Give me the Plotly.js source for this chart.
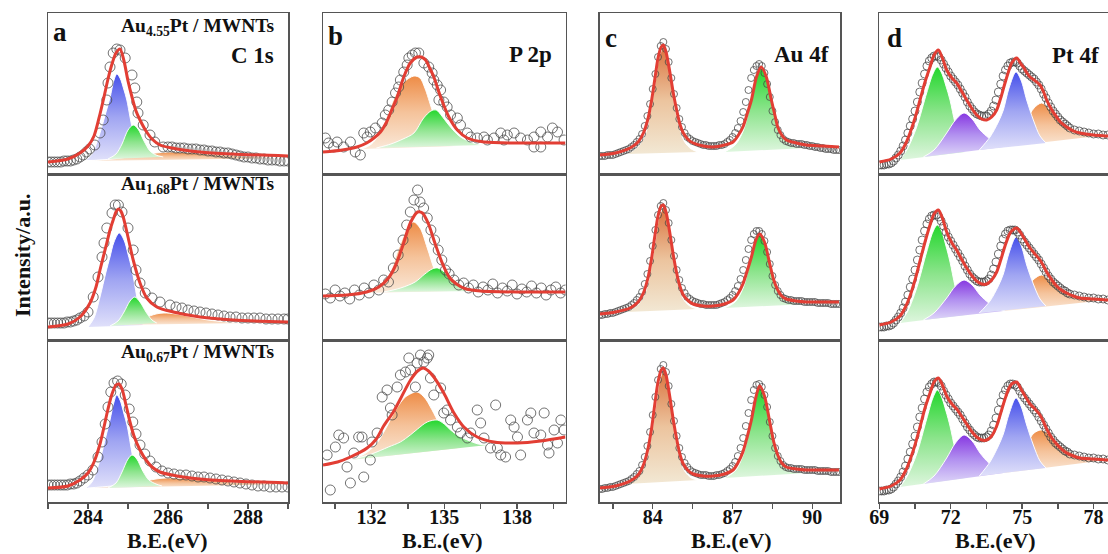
<!DOCTYPE html>
<html><head><meta charset="utf-8">
<script src="https://cdn.plot.ly/plotly-3.0.1.min.js"></script>
<style>html,body{margin:0;padding:0;overflow:hidden;background:#fff}#chart{width:1130px;height:554px}</style>
</head><body><div id="chart"></div>
<script>
// ---------------- DATA (binding energy eV, intensity a.u.) ----------------
// Panel a : C 1s
const A1_PTS=[[283.0,12],[283.08,12],[283.16,12],[283.24,12],[283.32,12],[283.4,13],[283.48,13],[283.56,13],[283.64,14],[283.72,15],[283.8,17],[283.88,19],[283.96,22],[284.04,25],[284.17,29],[284.3,41],[284.38,54],[284.47,74],[284.5,91],[284.55,107],[284.63,121],[284.72,125],[284.8,124],[284.93,116],[285.1,99],[285.17,86],[285.22,72],[285.25,61],[285.38,49],[285.55,39],[285.67,32],[285.88,27],[286.0,27],[286.1,27],[286.2,26],[286.3,26],[286.4,26],[286.5,25],[286.6,25],[286.7,25],[286.8,24],[286.9,24],[287.0,23],[287.1,23],[287.2,22],[287.3,22],[287.4,21],[287.5,21],[287.6,20],[287.7,19],[287.8,18],[287.9,17],[288.0,17],[288.1,16],[288.2,16],[288.3,15],[288.4,15],[288.5,14],[288.6,14],[288.7,14],[288.8,13],[288.9,13],[289.0,13]];
const A1_FIT=[[283.0,12],[283.5,15],[283.8,21],[284.0,28],[284.15,38],[284.3,60],[284.4,77],[284.5,95],[284.6,110],[284.7,121],[284.8,125],[284.9,113],[285.0,93],[285.1,77],[285.2,63],[285.3,54],[285.45,43],[285.6,35],[285.8,29],[286.1,26],[286.8,22],[287.6,20],[289.0,18]];
const A1_C1=[[283.95,14],[284.1,20],[284.3,41],[284.45,62],[284.55,76],[284.65,94],[284.72,100],[284.8,96],[284.9,84],[284.97,74],[285.05,57],[285.13,41],[285.25,20],[285.35,15]];
const A1_C2=[[284.5,15],[284.7,20],[284.85,30],[285.0,44],[285.13,49],[285.25,45],[285.4,33],[285.55,23],[285.7,19],[285.88,17]];
const A1_C3=[[284.0,13],[284.6,15],[285.2,18],[285.7,21],[286.05,22],[286.5,21.5],[287.0,20],[287.6,18.5],[288.3,17],[289.0,16]];

const A2_PTS=[[283.0,17],[283.08,17],[283.16,17],[283.24,17],[283.32,17],[283.4,17],[283.48,18],[283.56,18],[283.64,19],[283.72,20],[283.8,22],[283.9,24],[284.0,28],[284.13,43],[284.25,63],[284.35,83],[284.4,97],[284.47,112],[284.6,127],[284.68,135],[284.76,135],[284.85,128],[285.0,112],[285.13,90],[285.2,70],[285.3,57],[285.43,47],[285.6,42],[285.8,38],[286.05,35],[286.2,33],[286.35,32],[286.5,30],[286.65,29],[286.8,28],[286.95,27],[287.1,26],[287.25,25],[287.4,24],[287.55,23],[287.7,23],[287.85,22],[288.0,22],[288.15,22],[288.3,22],[288.45,21],[288.6,21],[288.75,21],[288.9,21],[289.0,21]];
const A2_FIT=[[283.0,13],[283.5,16],[283.8,23],[284.05,37],[284.2,53],[284.3,70],[284.4,86],[284.47,97],[284.55,110],[284.63,120],[284.7,128],[284.76,131],[284.82,129],[284.88,123],[285.0,103],[285.13,80],[285.3,57],[285.47,42],[285.72,33],[286.13,28],[286.8,23],[287.63,20],[289.0,18]];
const A2_C1=[[284.0,13],[284.15,22],[284.3,43],[284.45,68],[284.55,83],[284.65,98],[284.78,107],[284.9,100],[285.0,86],[285.1,70],[285.22,43],[285.3,25],[285.38,15]];
const A2_C2=[[284.55,14],[284.75,19],[284.9,28],[285.05,39],[285.17,43],[285.3,38],[285.45,28],[285.6,20],[285.72,17]];
const A2_C3=[[284.6,15],[285.0,17],[285.4,22],[285.7,26],[285.9,27],[286.2,26],[286.6,23],[287.0,20],[287.5,18],[288.0,17]];

const A3_PTS=[[283.0,17],[283.08,17],[283.16,17],[283.24,17],[283.32,17],[283.4,17],[283.48,17],[283.56,18],[283.64,18],[283.72,19],[283.8,21],[283.9,24],[284.0,27],[284.12,32],[284.25,45],[284.35,60],[284.43,78],[284.5,95],[284.57,110],[284.65,119],[284.74,121],[284.83,118],[284.93,107],[285.03,93],[285.12,80],[285.2,68],[285.3,57],[285.42,48],[285.55,41],[285.7,35],[285.85,31],[286.0,29],[286.15,28],[286.3,27],[286.45,27],[286.6,26],[286.75,25],[286.9,25],[287.05,24],[287.2,23],[287.35,22],[287.5,21],[287.65,20],[287.8,19],[287.95,18],[288.1,17],[288.25,16],[288.4,16],[288.55,15],[288.7,15],[288.85,15],[289.0,15]];
const A3_FIT=[[283.0,14],[283.5,16],[283.8,22],[284.0,29],[284.15,40],[284.3,58],[284.4,75],[284.5,93],[284.6,108],[284.7,117],[284.77,118],[284.85,113],[284.95,97],[285.05,80],[285.15,66],[285.3,52],[285.45,42],[285.6,35],[285.8,30],[286.1,27],[286.8,23],[287.6,21],[289.0,19]];
const A3_C1=[[283.95,14],[284.1,20],[284.3,42],[284.45,66],[284.55,82],[284.65,100],[284.72,107],[284.8,102],[284.9,88],[284.98,76],[285.06,58],[285.14,40],[285.25,20],[285.35,15]];
const A3_C2=[[284.5,14],[284.7,19],[284.85,30],[285.0,43],[285.1,47],[285.22,43],[285.37,31],[285.52,22],[285.7,18],[285.85,16]];
const A3_C3=[[284.0,14],[284.6,16],[285.2,19],[285.7,23],[285.95,24],[286.4,23.5],[287.0,22],[287.6,20],[288.3,19],[289.0,18]];

// Panel b : P 2p
const B1_PTS=[[130.1,36],[130.23,31],[130.44,27],[130.58,32],[130.85,27],[131.13,32],[131.33,22],[131.54,19],[131.68,41],[131.82,37],[131.95,42],[132.16,46],[132.44,51],[132.57,59],[132.71,64],[132.85,72],[132.99,81],[133.12,87],[133.19,94],[133.33,102],[133.47,109],[133.54,116],[133.68,119],[133.81,121],[133.95,121],[134.16,111],[134.36,107],[134.5,101],[134.57,94],[134.71,89],[134.85,84],[134.78,74],[134.98,72],[135.12,67],[135.26,59],[135.54,56],[135.67,49],[135.95,41],[136.09,37],[136.36,36],[136.64,37],[136.78,34],[137.05,36],[137.33,41],[137.46,34],[137.6,39],[137.88,41],[138.15,36],[138.43,34],[138.7,27],[138.7,37],[138.98,42],[138.98,27],[139.26,37],[139.46,46],[139.67,42],[139.94,34]];
const B1_FIT=[[130.0,22],[130.8,24],[131.4,27],[131.8,31],[132.1,36],[132.37,42],[132.6,51],[132.78,61],[133.06,77],[133.33,97],[133.6,111],[133.88,117],[134.05,117],[134.23,114],[134.4,106],[134.57,97],[134.85,77],[135.19,57],[135.54,44],[135.95,36],[136.64,32],[138.0,31],[140.0,31]];
const B1_C1=[[131.6,25],[132.0,30],[132.5,47],[132.9,74],[133.3,91],[133.75,98],[134.0,96],[134.2,86],[134.5,64],[134.85,41],[135.25,29],[135.5,28]];
const B1_C2=[[132.2,26],[132.8,30],[133.3,35],[133.75,41],[134.15,56],[134.45,63],[134.67,64],[134.9,58],[135.12,51],[135.4,43],[135.67,37],[136.2,31],[136.6,29]];

const B2_PTS=[[130.1,46],[130.3,42],[130.5,50],[130.7,44],[130.9,47],[131.1,41],[131.3,50],[131.5,45],[131.7,52],[131.9,47],[132.1,55],[132.3,50],[132.5,60],[132.7,58],[132.9,72],[133.1,85],[133.3,100],[133.45,115],[133.6,128],[133.75,140],[133.9,150],[134.0,138],[134.15,132],[134.3,122],[134.45,110],[134.6,100],[134.75,90],[134.9,80],[135.05,70],[135.2,66],[135.4,60],[135.6,55],[135.8,57],[136.0,52],[136.2,55],[136.4,48],[136.6,53],[136.8,50],[137.0,56],[137.2,47],[137.4,52],[137.6,49],[137.8,55],[138.0,46],[138.2,51],[138.4,48],[138.6,54],[138.8,47],[139.0,52],[139.2,45],[139.4,50],[139.6,53],[139.8,47],[140.0,50]];
const B2_FIT=[[130.0,44],[131.0,45],[131.8,48],[132.3,53],[132.7,62],[133.0,75],[133.3,95],[133.6,117],[133.9,128],[134.1,127],[134.35,116],[134.6,98],[134.9,78],[135.2,63],[135.5,56],[135.9,51],[136.5,49],[138.0,48],[140.0,48]];
const B2_C1=[[131.6,47],[132.2,52],[132.7,64],[133.1,90],[133.45,110],[133.73,118],[134.0,112],[134.3,92],[134.6,70],[134.9,55],[135.3,49]];
const B2_C2=[[132.5,48],[133.2,52],[133.8,58],[134.2,66],[134.5,71],[134.73,72],[135.0,68],[135.3,61],[135.7,54],[136.2,50],[136.7,49]];

const B3_PTS=[[130.17,47],[130.3,12],[130.51,55],[130.65,67],[130.85,64],[130.99,35],[131.13,19],[131.27,49],[131.47,65],[131.61,65],[131.68,25],[131.95,42],[132.02,60],[132.23,69],[132.44,105],[132.64,112],[132.78,94],[132.85,87],[133.06,115],[133.19,127],[133.4,130],[133.54,144],[133.61,132],[133.81,115],[133.88,139],[134.02,147],[134.16,140],[134.3,144],[134.36,147],[134.43,124],[134.57,107],[134.85,114],[134.98,89],[135.12,92],[135.26,82],[135.54,75],[135.67,69],[135.95,64],[136.09,69],[136.36,92],[136.5,79],[136.64,64],[136.91,54],[137.12,97],[137.19,54],[137.33,47],[137.53,45],[137.74,82],[137.88,75],[138.02,65],[138.15,47],[138.43,82],[138.57,89],[138.7,69],[138.98,67],[139.12,89],[139.26,57],[139.32,49],[139.53,72],[139.67,59],[139.81,82],[139.94,72]];
const B3_FIT=[[130.0,37],[130.6,40],[131.13,45],[131.82,54],[132.2,63],[132.5,76],[132.9,90],[133.19,103],[133.61,122],[133.9,131],[134.13,134],[134.35,131],[134.57,125],[134.98,109],[135.4,89],[135.81,75],[136.36,65],[137.05,60],[138.02,59],[138.98,61],[140.0,65]];
const B3_C1=[[131.1,42],[131.7,48],[132.2,58],[132.6,74],[133.0,92],[133.4,105],[133.88,110],[134.2,104],[134.43,95],[134.71,82],[135.0,68],[135.35,56],[135.6,54]];
const B3_C2=[[131.1,42],[132.0,48],[132.7,55],[133.19,60],[133.6,67],[133.9,73],[134.3,80],[134.71,82],[135.0,78],[135.26,72],[135.6,66],[135.95,62],[136.4,58],[136.8,57]];

// Panel c : Au 4f
const C1_PTS=[[82.0,18],[82.1,18],[82.2,18],[82.3,19],[82.4,19],[82.5,19],[82.6,20],[82.7,21],[82.8,22],[82.9,23],[83.0,24],[83.1,25],[83.2,27],[83.3,29],[83.4,32],[83.5,35],[83.6,40],[83.7,48],[83.8,58],[83.9,70],[84.0,85],[84.1,100],[84.2,117],[84.3,128],[84.4,132],[84.5,125],[84.6,112],[84.7,96],[84.8,80],[84.9,66],[85.0,55],[85.1,47],[85.2,41],[85.3,37],[85.4,35],[85.5,33],[85.6,32],[85.7,31],[85.8,30],[85.9,29],[86.0,29],[86.1,28],[86.2,28],[86.3,28],[86.4,28],[86.5,29],[86.6,29],[86.7,30],[86.8,32],[86.9,34],[87.0,37],[87.1,41],[87.2,46],[87.3,53],[87.4,62],[87.5,72],[87.6,84],[87.7,96],[87.8,104],[87.9,108],[88.0,110],[88.1,108],[88.2,101],[88.3,90],[88.4,77],[88.5,63],[88.6,52],[88.7,44],[88.8,39],[88.9,35],[89.0,33],[89.1,32],[89.2,31],[89.3,31],[89.4,30],[89.5,30],[89.6,30],[89.7,29],[89.8,29],[89.9,28],[90.0,28],[90.1,27],[90.2,27],[90.3,26],[90.4,26],[90.5,25],[90.6,25],[90.7,25],[90.8,24],[90.9,24],[91.0,24]];
const C1_FIT=[[82.0,19],[82.6,21],[83.15,26],[83.45,32],[83.65,41],[83.82,55],[83.96,74],[84.08,95],[84.2,116],[84.32,127],[84.4,129],[84.5,122],[84.65,101],[84.78,80],[84.9,64],[85.02,50],[85.15,41],[85.35,34],[85.52,31],[85.9,28],[86.27,27],[86.7,29],[87.02,32],[87.2,38],[87.39,47],[87.55,60],[87.71,74],[87.9,97],[88.08,107],[88.27,97],[88.46,74],[88.6,58],[88.7,47],[88.85,39],[89.02,34],[89.4,31],[89.77,29],[90.4,28],[91.0,27]];
const C1_C1=[[83.0,20],[83.4,26],[83.7,38],[83.9,60],[84.09,91],[84.25,118],[84.43,127],[84.6,112],[84.71,91],[84.85,65],[85.02,45],[85.2,32],[85.45,25],[85.7,22]];
const C1_C2=[[86.7,22],[87.1,29],[87.4,43],[87.64,67],[87.83,91],[88.08,106],[88.33,91],[88.58,64],[88.8,43],[89.1,31],[89.45,27],[89.8,26]];

const C2_PTS=[[82.0,25],[82.1,25],[82.2,26],[82.3,26],[82.4,27],[82.5,27],[82.6,28],[82.7,29],[82.8,30],[82.9,31],[83.0,32],[83.1,33],[83.2,35],[83.3,37],[83.4,40],[83.5,43],[83.6,48],[83.7,56],[83.8,66],[83.9,79],[84.0,94],[84.1,110],[84.2,125],[84.3,134],[84.4,137],[84.5,130],[84.6,117],[84.7,100],[84.8,84],[84.9,70],[85.0,60],[85.1,52],[85.2,47],[85.3,43],[85.4,41],[85.5,39],[85.6,38],[85.7,37],[85.8,36],[85.9,36],[86.0,35],[86.1,35],[86.2,35],[86.3,35],[86.4,35],[86.5,36],[86.6,37],[86.7,38],[86.8,40],[86.9,42],[87.0,45],[87.1,49],[87.2,54],[87.3,61],[87.4,70],[87.5,80],[87.6,91],[87.7,100],[87.8,106],[87.9,109],[88.0,109],[88.1,106],[88.2,99],[88.3,88],[88.4,76],[88.5,64],[88.6,55],[88.7,49],[88.8,45],[88.9,42],[89.0,41],[89.1,40],[89.2,40],[89.3,39],[89.4,39],[89.5,39],[89.6,39],[89.7,38],[89.8,38],[89.9,38],[90.0,38],[90.1,38],[90.2,37],[90.3,37],[90.4,37],[90.5,37],[90.6,37],[90.7,36],[90.8,36],[90.9,36],[91.0,36]];
const C2_FIT=[[82.0,26],[82.6,28],[83.15,32],[83.45,38],[83.65,47],[83.82,62],[83.96,82],[84.08,104],[84.2,124],[84.32,134],[84.4,135],[84.5,128],[84.65,106],[84.78,84],[84.9,67],[85.02,54],[85.15,45],[85.35,39],[85.52,36],[85.9,34],[86.27,34],[86.7,36],[87.02,40],[87.2,46],[87.39,56],[87.55,69],[87.71,83],[87.88,100],[88.02,106],[88.2,98],[88.4,76],[88.55,60],[88.7,50],[88.85,44],[89.02,41],[89.4,39],[89.77,38],[90.4,38],[91.0,38]];
const C2_C1=[[83.0,28],[83.4,34],[83.7,46],[83.9,67],[84.09,98],[84.25,124],[84.42,132],[84.6,117],[84.71,96],[84.85,70],[85.02,50],[85.2,39],[85.45,33],[85.7,31]];
const C2_C2=[[86.7,32],[87.1,38],[87.4,52],[87.62,74],[87.82,96],[88.02,105],[88.25,94],[88.5,68],[88.72,48],[89.05,39],[89.4,37],[89.8,36]];

const C3_PTS=[[82.0,13],[82.1,13],[82.2,14],[82.3,14],[82.4,15],[82.5,15],[82.6,16],[82.7,17],[82.8,18],[82.9,19],[83.0,20],[83.1,21],[83.2,23],[83.3,25],[83.4,28],[83.5,31],[83.6,37],[83.7,45],[83.8,56],[83.9,70],[84.0,87],[84.1,105],[84.2,122],[84.3,133],[84.4,137],[84.5,130],[84.6,116],[84.7,98],[84.8,81],[84.9,66],[85.0,54],[85.1,45],[85.2,39],[85.3,35],[85.4,32],[85.5,30],[85.6,29],[85.7,28],[85.8,27],[85.9,27],[86.0,27],[86.1,26],[86.2,26],[86.3,26],[86.4,27],[86.5,27],[86.6,28],[86.7,29],[86.8,31],[86.9,33],[87.0,36],[87.1,40],[87.2,46],[87.3,54],[87.4,64],[87.5,76],[87.6,89],[87.7,102],[87.8,112],[87.9,117],[88.0,118],[88.1,115],[88.2,107],[88.3,95],[88.4,80],[88.5,66],[88.6,54],[88.7,46],[88.8,41],[88.9,37],[89.0,35],[89.1,34],[89.2,34],[89.3,33],[89.4,33],[89.5,33],[89.6,33],[89.7,32],[89.8,32],[89.9,32],[90.0,32],[90.1,32],[90.2,31],[90.3,31],[90.4,31],[90.5,31],[90.6,31],[90.7,30],[90.8,30],[90.9,30],[91.0,30]];
const C3_FIT=[[82.0,14],[82.6,16],[83.15,21],[83.45,27],[83.65,37],[83.82,53],[83.96,74],[84.08,98],[84.2,120],[84.32,132],[84.4,134],[84.5,127],[84.65,104],[84.78,81],[84.9,63],[85.02,48],[85.15,38],[85.35,31],[85.52,28],[85.9,26],[86.27,26],[86.7,28],[87.02,32],[87.2,39],[87.39,50],[87.55,65],[87.71,82],[87.88,105],[88.02,116],[88.2,106],[88.4,80],[88.55,60],[88.7,47],[88.85,39],[89.02,35],[89.4,33],[89.77,32],[90.4,32],[91.0,32]];
const C3_C1=[[83.0,18],[83.4,24],[83.7,37],[83.9,59],[84.09,92],[84.25,120],[84.42,132],[84.6,116],[84.71,93],[84.85,66],[85.02,44],[85.2,31],[85.45,24],[85.7,22]];
const C3_C2=[[86.7,24],[87.1,31],[87.4,47],[87.62,72],[87.82,100],[88.02,115],[88.25,100],[88.5,70],[88.72,46],[89.05,33],[89.4,30],[89.8,29]];

// Panel d : Pt 4f
const D1_PTS=[[69.0,9],[69.1,9],[69.2,9],[69.3,10],[69.4,10],[69.5,11],[69.6,13],[69.7,16],[69.8,19],[69.9,23],[70.0,28],[70.1,34],[70.2,41],[70.3,48],[70.4,55],[70.5,63],[70.6,72],[70.7,82],[70.8,91],[70.9,100],[71.0,108],[71.1,113],[71.2,116],[71.3,118],[71.4,118],[71.5,117],[71.6,114],[71.7,110],[71.8,106],[71.9,102],[72.0,98],[72.1,95],[72.2,92],[72.3,89],[72.4,85],[72.5,81],[72.6,77],[72.7,72],[72.8,68],[72.9,65],[73.0,62],[73.1,60],[73.2,59],[73.3,58],[73.4,58],[73.5,58],[73.6,60],[73.7,63],[73.8,68],[73.9,74],[74.0,82],[74.1,90],[74.2,98],[74.3,104],[74.4,108],[74.5,111],[74.6,112],[74.7,112],[74.8,111],[74.9,108],[75.0,105],[75.1,103],[75.2,101],[75.3,99],[75.4,97],[75.5,95],[75.6,92],[75.7,89],[75.8,85],[75.9,80],[76.0,76],[76.1,71],[76.2,67],[76.3,63],[76.4,60],[76.5,57],[76.6,54],[76.7,52],[76.8,50],[76.9,48],[77.0,46],[77.2,44],[77.4,43],[77.6,42],[77.8,41],[78.0,40],[78.2,40],[78.4,39],[78.6,39],[78.8,38],[79.0,38]];
const D1_FIT=[[69.0,12],[69.5,15],[69.87,21],[70.1,30],[70.29,41],[70.5,56],[70.71,74],[70.92,92],[71.13,107],[71.3,119],[71.48,124],[71.65,116],[71.83,104],[72.05,96],[72.25,91],[72.45,83],[72.67,74],[72.9,65],[73.09,59],[73.3,55],[73.51,54],[73.72,57],[73.93,64],[74.1,76],[74.28,91],[74.45,104],[74.56,111],[74.77,116],[74.95,110],[75.05,107],[75.2,101],[75.33,97],[75.5,94],[75.75,89],[75.9,82],[76.03,74],[76.25,64],[76.45,57],[76.65,51],[76.87,47],[77.15,43],[77.43,41],[78.0,39],[78.6,38],[79.1,37]];
const D1_C1=[[69.87,14],[70.2,26],[70.57,47],[70.99,81],[71.25,100],[71.44,107],[71.6,102],[71.8,88],[71.97,74],[72.18,51],[72.4,33],[72.6,22]];
const D1_C2=[[70.85,17],[71.3,24],[71.83,41],[72.2,54],[72.56,61],[72.9,55],[73.23,44],[73.6,36],[73.95,31],[74.21,27]];
const D1_C3=[[73.2,24],[73.65,37],[74.0,52],[74.21,64],[74.45,86],[74.74,102],[74.95,94],[75.19,74],[75.47,54],[75.75,38],[76.0,31]];
const D1_C4=[[74.21,27],[74.7,37],[75.19,54],[75.5,66],[75.82,71],[76.1,66],[76.59,54],[77.29,44],[77.9,40],[78.55,39]];

const D2_PTS=[[69.0,13],[69.1,13],[69.2,13],[69.3,14],[69.4,14],[69.5,15],[69.6,17],[69.7,20],[69.8,23],[69.9,27],[70.0,32],[70.1,38],[70.2,45],[70.3,53],[70.4,61],[70.5,70],[70.6,80],[70.7,90],[70.8,100],[70.9,109],[71.0,116],[71.1,121],[71.2,124],[71.3,125],[71.4,125],[71.5,123],[71.6,119],[71.7,114],[71.8,108],[71.9,103],[72.0,99],[72.1,95],[72.2,91],[72.3,87],[72.4,83],[72.5,79],[72.6,74],[72.7,70],[72.8,66],[72.9,63],[73.0,61],[73.1,59],[73.2,58],[73.3,58],[73.4,58],[73.5,59],[73.6,61],[73.7,65],[73.8,71],[73.9,78],[74.0,86],[74.1,94],[74.2,101],[74.3,106],[74.4,109],[74.5,110],[74.6,110],[74.7,110],[74.8,108],[74.9,105],[75.0,101],[75.1,98],[75.2,95],[75.3,92],[75.4,89],[75.5,86],[75.6,83],[75.7,80],[75.8,76],[75.9,72],[76.0,68],[76.1,64],[76.2,61],[76.3,58],[76.4,56],[76.5,54],[76.6,52],[76.7,50],[76.8,49],[76.9,47],[77.0,46],[77.2,45],[77.4,44],[77.6,43],[77.8,42],[78.0,42],[78.2,41],[78.4,41],[78.6,40],[78.8,40],[79.0,40]];
const D2_FIT=[[69.0,15],[69.5,18],[69.87,24],[70.1,33],[70.29,44],[70.5,60],[70.71,79],[70.92,98],[71.13,115],[71.3,126],[71.48,130],[71.65,122],[71.83,108],[72.05,97],[72.25,90],[72.45,81],[72.67,72],[72.9,64],[73.09,59],[73.3,56],[73.51,56],[73.72,60],[73.93,68],[74.1,80],[74.28,94],[74.45,105],[74.56,109],[74.77,112],[74.95,107],[75.05,103],[75.2,97],[75.33,92],[75.5,87],[75.75,80],[75.9,74],[76.03,68],[76.25,60],[76.45,54],[76.65,50],[76.87,47],[77.15,44],[77.43,42],[78.0,41],[78.6,40],[79.1,40]];
const D2_C1=[[69.87,17],[70.2,29],[70.57,52],[70.99,88],[71.25,108],[71.44,115],[71.6,110],[71.8,94],[71.97,78],[72.18,54],[72.4,35],[72.6,25]];
const D2_C2=[[70.85,20],[71.3,27],[71.83,42],[72.2,54],[72.56,60],[72.9,55],[73.23,45],[73.6,37],[73.95,32],[74.21,29]];
const D2_C3=[[73.2,27],[73.65,39],[74.0,54],[74.21,66],[74.45,87],[74.74,103],[74.95,95],[75.19,75],[75.47,56],[75.75,41],[76.0,34]];
const D2_C4=[[74.21,29],[74.7,38],[75.19,52],[75.5,61],[75.82,65],[76.1,61],[76.59,52],[77.29,44],[77.9,41],[78.55,40]];

const D3_PTS=[[69.0,11],[69.1,11],[69.2,11],[69.3,12],[69.4,12],[69.5,13],[69.6,15],[69.7,18],[69.8,21],[69.9,25],[70.0,30],[70.1,36],[70.2,43],[70.3,50],[70.4,58],[70.5,66],[70.6,75],[70.7,85],[70.8,94],[70.9,103],[71.0,110],[71.1,115],[71.2,118],[71.3,120],[71.4,120],[71.5,119],[71.6,116],[71.7,111],[71.8,107],[71.9,103],[72.0,99],[72.1,96],[72.2,93],[72.3,90],[72.4,87],[72.5,83],[72.6,79],[72.7,75],[72.8,72],[72.9,69],[73.0,67],[73.1,65],[73.2,64],[73.3,64],[73.4,64],[73.5,65],[73.6,67],[73.7,71],[73.8,77],[73.9,84],[74.0,92],[74.1,100],[74.2,107],[74.3,112],[74.4,116],[74.5,118],[74.6,118],[74.7,117],[74.8,115],[74.9,111],[75.0,107],[75.1,104],[75.2,101],[75.3,98],[75.4,95],[75.5,92],[75.6,89],[75.7,85],[75.8,81],[75.9,77],[76.0,73],[76.1,69],[76.2,65],[76.3,62],[76.4,59],[76.5,57],[76.6,55],[76.7,53],[76.8,51],[76.9,50],[77.0,48],[77.2,47],[77.4,46],[77.6,45],[77.8,44],[78.0,44],[78.2,43],[78.4,43],[78.6,42],[78.8,42],[79.0,42]];
const D3_FIT=[[69.0,13],[69.5,16],[69.87,22],[70.1,31],[70.29,42],[70.5,57],[70.71,75],[70.92,94],[71.13,109],[71.3,120],[71.48,124],[71.65,117],[71.83,106],[72.05,98],[72.25,93],[72.45,86],[72.67,78],[72.9,70],[73.09,65],[73.3,62],[73.51,62],[73.72,66],[73.93,76],[74.1,89],[74.28,103],[74.45,114],[74.56,118],[74.77,120],[74.95,113],[75.05,109],[75.2,103],[75.33,98],[75.5,94],[75.75,87],[75.9,80],[76.03,73],[76.25,64],[76.45,58],[76.65,53],[76.87,49],[77.15,46],[77.43,44],[78.0,43],[78.6,42],[79.1,42]];
const D3_C1=[[69.87,15],[70.2,27],[70.57,48],[70.99,83],[71.25,104],[71.44,112],[71.6,106],[71.8,91],[71.97,76],[72.18,53],[72.4,34],[72.6,24]];
const D3_C2=[[70.85,18],[71.3,26],[71.83,44],[72.2,59],[72.56,67],[72.9,61],[73.23,49],[73.6,39],[73.95,33],[74.21,29]];
const D3_C3=[[73.2,26],[73.65,40],[74.0,56],[74.21,68],[74.45,88],[74.74,104],[74.95,96],[75.19,77],[75.47,57],[75.75,41],[76.0,34]];
const D3_C4=[[74.21,29],[74.7,40],[75.19,58],[75.5,69],[75.82,72],[76.1,68],[76.59,57],[77.29,47],[77.9,43],[78.55,42]];

// Text
const X_TITLE="B.E.(eV)";
const Y_TITLE="Intensity/a.u.";
const PANEL_LETTERS=["a","b","c","d"];
const SAMPLE_LABELS=["Au<sub>4.55</sub>Pt / MWNTs","Au<sub>1.68</sub>Pt / MWNTs","Au<sub>0.67</sub>Pt / MWNTs"];
const CORE_LEVELS=["C 1s","P 2p","Au 4f","Pt 4f"];

// ---------------- LAYOUT / STYLE ----------------
const W=1130,H=554;
const COLS=[
 {dom:[48,288],range:[283,289],tick0:284,dtick:2,minor:1,msize:10},
 {dom:[323,565.5],range:[130,140],tick0:132,dtick:3,minor:1.5,msize:10},
 {dom:[599.5,840],range:[82,91.04],tick0:84,dtick:3,minor:1.5,msize:7},
 {dom:[879.3,1120],range:[69,79.11],tick0:69,dtick:3,minor:1.5,msize:8}
];
const ROWS=[[13,174],[174,340],[340,502]];
const GRAD={
 blue:[[0,'rgb(224,224,250)'],[0.5,'rgb(160,165,242)'],[1,'rgb(70,80,235)']],
 green:[[0,'rgb(222,246,222)'],[0.5,'rgb(140,228,140)'],[1,'rgb(35,215,45)']],
 orange:[[0,'rgb(250,232,216)'],[0.5,'rgb(245,195,155)'],[1,'rgb(238,140,70)']],
 tan:[[0,'rgb(242,232,212)'],[0.5,'rgb(236,196,158)'],[1,'rgb(218,115,62)']],
 purple:[[0,'rgb(222,214,248)'],[0.5,'rgb(178,145,240)'],[1,'rgb(135,55,225)']]
};
const PANELS=[
 [{pts:A1_PTS,fit:A1_FIT,comps:[[A1_C1,'blue'],[A1_C3,'orange'],[A1_C2,'green']]},
  {pts:B1_PTS,fit:B1_FIT,comps:[[B1_C1,'orange'],[B1_C2,'green']]},
  {pts:C1_PTS,fit:C1_FIT,comps:[[C1_C1,'tan'],[C1_C2,'green']]},
  {pts:D1_PTS,fit:D1_FIT,comps:[[D1_C1,'green'],[D1_C2,'purple'],[D1_C4,'orange'],[D1_C3,'blue']]}],
 [{pts:A2_PTS,fit:A2_FIT,comps:[[A2_C1,'blue'],[A2_C3,'orange'],[A2_C2,'green']]},
  {pts:B2_PTS,fit:B2_FIT,comps:[[B2_C1,'orange'],[B2_C2,'green']]},
  {pts:C2_PTS,fit:C2_FIT,comps:[[C2_C1,'tan'],[C2_C2,'green']]},
  {pts:D2_PTS,fit:D2_FIT,comps:[[D2_C1,'green'],[D2_C2,'purple'],[D2_C4,'orange'],[D2_C3,'blue']]}],
 [{pts:A3_PTS,fit:A3_FIT,comps:[[A3_C1,'blue'],[A3_C3,'orange'],[A3_C2,'green']]},
  {pts:B3_PTS,fit:B3_FIT,comps:[[B3_C1,'orange'],[B3_C2,'green']]},
  {pts:C3_PTS,fit:C3_FIT,comps:[[C3_C1,'tan'],[C3_C2,'green']]},
  {pts:D3_PTS,fit:D3_FIT,comps:[[D3_C1,'green'],[D3_C2,'purple'],[D3_C4,'orange'],[D3_C3,'blue']]}]
];

const FONT='Liberation Serif, Times New Roman, serif';
const traces=[];
const layout={width:W,height:H,margin:{l:0,r:0,t:0,b:0},paper_bgcolor:'#fff',plot_bgcolor:'#fff',showlegend:false,annotations:[]};
const xs=a=>a.map(p=>p[0]), ys=a=>a.map(p=>p[1]);

PANELS.forEach((row,r)=>{
 row.forEach((P,c)=>{
  const n=r*4+c+1, sx=n===1?'':String(n);
  const col=COLS[c], rw=ROWS[r], bottom=(r===2);
  const xa='x'+sx, ya='y'+sx;
  P.comps.forEach(([arr,g])=>{
   traces.push({type:'scatter',mode:'lines',x:xs(arr),y:ys(arr),xaxis:xa,yaxis:ya,fill:'toself',
     fillgradient:{type:'vertical',colorscale:GRAD[g]},
     line:{color:'rgba(255,255,255,0.95)',width:1,shape:'spline',smoothing:0.9},hoverinfo:'skip'});
  });
  traces.push({type:'scatter',mode:'markers',x:xs(P.pts),y:ys(P.pts),xaxis:xa,yaxis:ya,
    marker:{symbol:'circle-open',size:col.msize,color:'rgba(70,70,70,0.85)',line:{width:0.9}},hoverinfo:'skip'});
  traces.push({type:'scatter',mode:'lines',x:xs(P.fit),y:ys(P.fit),xaxis:xa,yaxis:ya,
    line:{color:'rgb(226,62,52)',width:3,shape:'spline',smoothing:0.8},hoverinfo:'skip'});
  const ax={domain:[col.dom[0]/W,col.dom[1]/W],range:col.range,anchor:ya,showline:true,mirror:true,
    linecolor:'#555',linewidth:1.5,showgrid:false,zeroline:false,fixedrange:true,
    ticks:bottom?'outside':'',ticklen:5,tickwidth:1.5,tickcolor:'#555',showticklabels:bottom,
    ticklabelstandoff:bottom?-9:0,
    tick0:col.tick0,dtick:col.dtick,tickfont:{family:FONT,size:20,color:'#111',weight:'bold'}};
  if(bottom) ax.minor={tick0:col.tick0,dtick:col.minor,ticks:'outside',ticklen:5,tickwidth:1.5,tickcolor:'#555',showgrid:false};
  layout['xaxis'+sx]=ax;
  layout['yaxis'+sx]={domain:[1-rw[1]/H,1-rw[0]/H],range:[0,rw[1]-rw[0]],anchor:xa,showline:true,mirror:true,
    linecolor:'#555',linewidth:1.5,showgrid:false,zeroline:false,ticks:'',showticklabels:false,fixedrange:true};
 });
});

function ann(text,x,y,size,opts){
 layout.annotations.push(Object.assign({text:text,x:x/W,y:1-y/H,xref:'paper',yref:'paper',showarrow:false,
   xanchor:'center',yanchor:'middle',font:{family:FONT,size:size,color:'#111',weight:'bold'}},opts||{}));
}
// column titles
[167,442,731,995].forEach(x=>ann(X_TITLE,x,540,22));
ann(Y_TITLE,22,256,22,{textangle:-90});
// panel letters
[[60,32],[335,36],[611,38],[894,38]].forEach((p,i)=>ann(PANEL_LETTERS[i],p[0],p[1],27));
// sample labels (column a)
[[277,27],[277,185],[277,353]].forEach((p,i)=>ann(SAMPLE_LABELS[i],p[0],p[1],19.5,{xanchor:'right'}));
// core levels
[[276,56],[554,54],[831,54],[1101,56]].forEach((p,i)=>ann(CORE_LEVELS[i],p[0],p[1],23,{xanchor:'right'}));

Plotly.newPlot('chart',traces,layout,{staticPlot:true,displayModeBar:false});
</script></body></html>
